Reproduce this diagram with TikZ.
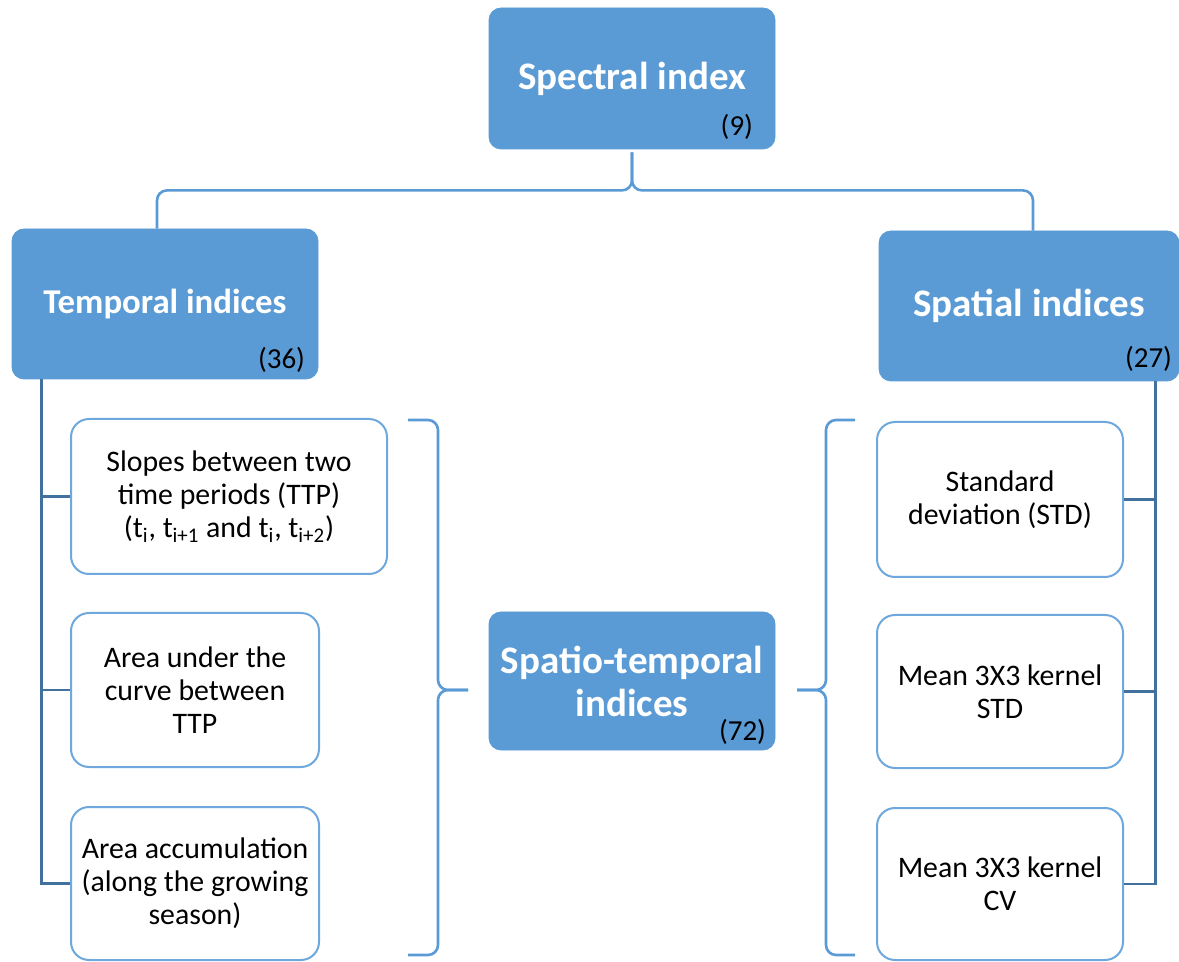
\documentclass[tikz,border=0pt]{standalone}
\usepackage{fontspec}
\setmainfont{Carlito}
\usetikzlibrary{positioning}
\usetikzlibrary{calc}

\definecolor{boxblue}{HTML}{5B9BD5}
\definecolor{busblue}{HTML}{41719C}
\definecolor{edgeblue}{HTML}{6FA8DC}

\tikzset{
  headbox/.style={fill=boxblue, draw=boxblue, rounded corners=6pt, text=white, align=center, inner sep=0pt,
    font=\bfseries\fontsize{19.5}{21.5}\selectfont},
  itembox/.style={draw=edgeblue, line width=1pt, fill=white, rounded corners=9pt, align=center, inner sep=0pt,
    minimum width=124pt, minimum height=77pt, font=\fontsize{14.9}{16.5}\selectfont},
  count/.style={anchor=south east, inner sep=0pt, font=\fontsize{14.5}{16.5}\selectfont},
  brace/.style={draw=boxblue, line width=1.3pt, rounded corners=5pt},
  bus/.style={draw=busblue, line width=1.3pt},
}

\begin{document}
\begin{tikzpicture}[x=0.5pt, y=-0.5pt]
  \useasboundingbox (0,0) rectangle (1179,962);

  % Blue boxes
  \node[headbox, minimum width=143pt, minimum height=70.5pt] (spec) at (632,78.5) {Spectral index};
  \node[headbox, minimum width=153pt, minimum height=75pt,
    font=\bfseries\fontsize{17.4}{19.5}\selectfont] (temp) at (165,304) {Temporal indices};
  \node[headbox, minimum width=150pt, minimum height=75pt] (spat) at (1029,306) {Spatial indices};
  \node[headbox, minimum width=143pt, minimum height=69pt] (st) at (632,681) {Spatio-temporal\\indices};

  % Counts
  \node[count] (n9) at ($(spec.south east)+(-22,-9)$) {(9)};
  \node[count] (n36) at ($(temp.south east)+(-13,-6)$) {(36)};
  \node[count] (n27) at ($(spat.south east)+(-7,-9)$) {(27)};
  \node[count] (n72) at ($(st.south east)+(-9,-5)$) {(72)};

  % Temporal items
  \node[itembox, minimum width=158pt, minimum height=77.5pt] (s1) at (229,496.5)
    {Slopes between two\\time periods (TTP)\\(t\textsubscript{i}, t\textsubscript{i+1} and t\textsubscript{i}, t\textsubscript{i+2})};
  \node[itembox] (s2) at (195,690) {Area under the\\curve between\\TTP};
  \node[itembox, minimum height=76.5pt] (s3) at (195,883.5) {Area accumulation\\(along the growing\\season)};

  % Spatial items
  \node[itembox, minimum width=123pt, minimum height=77.5pt] (r1) at (1000,499.5) {Standard\\deviation (STD)};
  \node[itembox, minimum width=123pt, minimum height=76.5pt] (r2) at (1000,691.5) {Mean 3X3 kernel\\STD};
  \node[itembox, minimum width=123pt, minimum height=76pt] (r3) at (1000,884) {Mean 3X3 kernel\\CV};

  % Top brace
  \coordinate (tip) at ($(spec.south)+(0,3)$);
  \draw[brace] ($(temp.north)+(-8,0)$) |- ($(spec.south)+(0,41)$) -- (tip);
  \draw[brace] ($(spat.north)+(4,0)$) |- ($(spec.south)+(0,41)$) -- (tip);

  % Side braces
  \draw[brace] (408,420) -- (438,420) -- (438,690) -- (468,690);
  \draw[brace] (408,955) -- (438,955) -- (438,690) -- (468,690);
  \draw[brace] (855,420) -- (826,420) -- (826,690) -- (797,690);
  \draw[brace] (855,955) -- (826,955) -- (826,690) -- (797,690);

  % Bus lines
  \coordinate (lbus) at ($(temp.south west)+(30,0)$);
  \draw[bus] (lbus) |- (s3.west);
  \draw[bus] (lbus |- s1.west) -- (s1.west);
  \draw[bus] (lbus |- s2.west) -- (s2.west);

  \coordinate (rbus) at ($(spat.south east)+(-24,0)$);
  \draw[bus] (rbus) |- (r3.east);
  \draw[bus] (rbus |- r1.east) -- (r1.east);
  \draw[bus] (rbus |- r2.east) -- (r2.east);
\end{tikzpicture}
\end{document}
